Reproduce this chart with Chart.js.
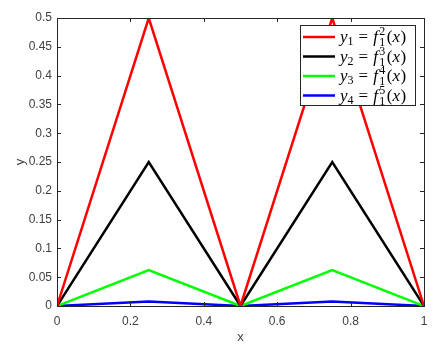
<!DOCTYPE html>
<html>
<head>
<meta charset="utf-8">
<script src="https://cdn.jsdelivr.net/npm/chart.js@4.4.1/dist/chart.umd.min.js"></script>
<style>
  html, body { margin: 0; padding: 0; background: #fff; }
  #wrap { width: 439px; height: 347px; }
</style>
</head>
<body>
<div id="wrap"><canvas id="myChart" width="439" height="347"></canvas></div>
<script>
// data
var xs = [0, 0.25, 0.5, 0.75, 1];
var y1 = [0, 0.5, 0, 0.5, 0];
var y2 = [0, 0.25, 0, 0.25, 0];
var y3 = [0, 0.0625, 0, 0.0625, 0];
var y4 = [0, 0.0078, 0, 0.0078, 0];
var powers = ['2', '3', '4', '5'];
var xTicks = [0, 0.2, 0.4, 0.6, 0.8, 1];
var yTicks = [0, 0.05, 0.1, 0.15, 0.2, 0.25, 0.3, 0.35, 0.4, 0.45, 0.5];

function pts(ys) {
  return xs.map(function (x, i) { return { x: x, y: ys[i] }; });
}

var axisColor = '#262626';
var labelColor = '#404040';

// box + inward ticks on all four sides, like matlab
var boxPlugin = {
  id: 'box',
  afterDatasetsDraw: function (chart) {
    var ctx = chart.ctx, a = chart.chartArea;
    var sx = chart.scales.x, sy = chart.scales.y;
    ctx.save();
    ctx.strokeStyle = axisColor;
    ctx.lineWidth = 1;
    ctx.beginPath();
    xTicks.forEach(function (t) {
      var px = Math.round(sx.getPixelForValue(t)) + 0.5;
      ctx.moveTo(px, a.bottom); ctx.lineTo(px, a.bottom - 4);
      ctx.moveTo(px, a.top); ctx.lineTo(px, a.top + 4);
    });
    yTicks.forEach(function (t) {
      var py = Math.round(sy.getPixelForValue(t)) + 0.5;
      ctx.moveTo(a.left, py); ctx.lineTo(a.left + 4, py);
      ctx.moveTo(a.right, py); ctx.lineTo(a.right - 4, py);
    });
    ctx.stroke();
    ctx.strokeRect(Math.round(a.left) + 0.5, Math.round(a.top) + 0.5,
      Math.round(a.right - a.left), Math.round(a.bottom - a.top));
    ctx.restore();
  }
};

// latex-ish legend: y_i = f_1^n(x)
var legendPlugin = {
  id: 'mathLegend',
  afterDraw: function (chart) {
    var ctx = chart.ctx;
    var bx = 300, by = 25, bw = 115, bh = 80, row = 19.5;
    var big = 'px "Liberation Serif"';
    ctx.save();
    ctx.fillStyle = '#fff';
    ctx.fillRect(bx, by, bw, bh);
    ctx.strokeStyle = axisColor;
    ctx.lineWidth = 1;
    ctx.strokeRect(bx + 0.5, by + 0.5, bw, bh);
    chart.data.datasets.forEach(function (ds, i) {
      var cy = by + 12 + i * row;
      ctx.strokeStyle = ds.borderColor;
      ctx.lineWidth = 2.5;
      ctx.beginPath();
      ctx.moveTo(303, cy); ctx.lineTo(335, cy);
      ctx.stroke();
      ctx.fillStyle = '#000';
      ctx.textBaseline = 'alphabetic';
      var base = cy + 5;
      var x = 340;
      ctx.font = 'italic 17' + big;
      ctx.fillText('y', x, base); x += ctx.measureText('y').width;
      ctx.font = '12' + big;
      ctx.fillText(String(i + 1), x, base + 3); x += ctx.measureText('1').width + 5;
      ctx.font = '17' + big;
      ctx.fillText('=', x, base); x += ctx.measureText('=').width + 5;
      ctx.font = 'italic 17' + big;
      ctx.fillText('f', x, base); x += ctx.measureText('f').width + 1.5;
      ctx.font = '12' + big;
      ctx.fillText(powers[i], x, base - 7);
      ctx.fillText('1', x, base + 4);
      x += ctx.measureText('1').width + 1.5;
      ctx.font = '17' + big;
      ctx.fillText('(', x, base); x += ctx.measureText('(').width;
      ctx.font = 'italic 17' + big;
      ctx.fillText('x', x, base); x += ctx.measureText('x').width + 0.5;
      ctx.font = '17' + big;
      ctx.fillText(')', x, base);
    });
    ctx.restore();
  }
};

function ds(label, ys, color) {
  return {
    label: label,
    data: pts(ys),
    borderColor: color,
    backgroundColor: color,
    borderWidth: 2.5,
    pointRadius: 0,
    fill: false,
    tension: 0
  };
}

var ctx = document.getElementById('myChart');
var myChart = new Chart(ctx, {
  type: 'line',
  data: {
    datasets: [
      ds('y1', y1, '#ff0000'),
      ds('y2', y2, '#000000'),
      ds('y3', y3, '#00ff00'),
      ds('y4', y4, '#0000ff')
    ]
  },
  options: {
    responsive: false,
    animation: false,
    layout: { padding: { top: 18, right: 15, left: 0, bottom: 0 } },
    plugins: { legend: { display: false }, tooltip: { enabled: false } },
    scales: {
      x: {
        type: 'linear', min: 0, max: 1,
        afterBuildTicks: function (s) { s.ticks = xTicks.map(function (v) { return { value: v }; }); },
        afterFit: function (s) { s.height = 41; },
        grid: { display: false, drawTicks: false },
        border: { display: false },
        ticks: { color: labelColor, font: { family: 'Liberation Sans', size: 12 }, padding: 8, maxRotation: 0,
          callback: function (v) { return String(v); } },
        title: { display: true, text: 'x', color: labelColor, font: { family: 'Liberation Sans', size: 13 }, padding: { top: 0, bottom: 2 } }
      },
      y: {
        type: 'linear', min: 0, max: 0.5,
        afterBuildTicks: function (s) { s.ticks = yTicks.map(function (v) { return { value: v }; }); },
        afterFit: function (s) { s.width = 57; },
        grid: { display: false, drawTicks: false },
        border: { display: false },
        ticks: { color: labelColor, font: { family: 'Liberation Sans', size: 12 }, padding: 5,
          callback: function (v) { return String(v); } },
        title: { display: true, text: 'y', color: labelColor, font: { family: 'Liberation Sans', size: 13 }, padding: { top: 13, bottom: 0 } }
      }
    }
  },
  plugins: [boxPlugin, legendPlugin]
});
</script>
</body>
</html>
